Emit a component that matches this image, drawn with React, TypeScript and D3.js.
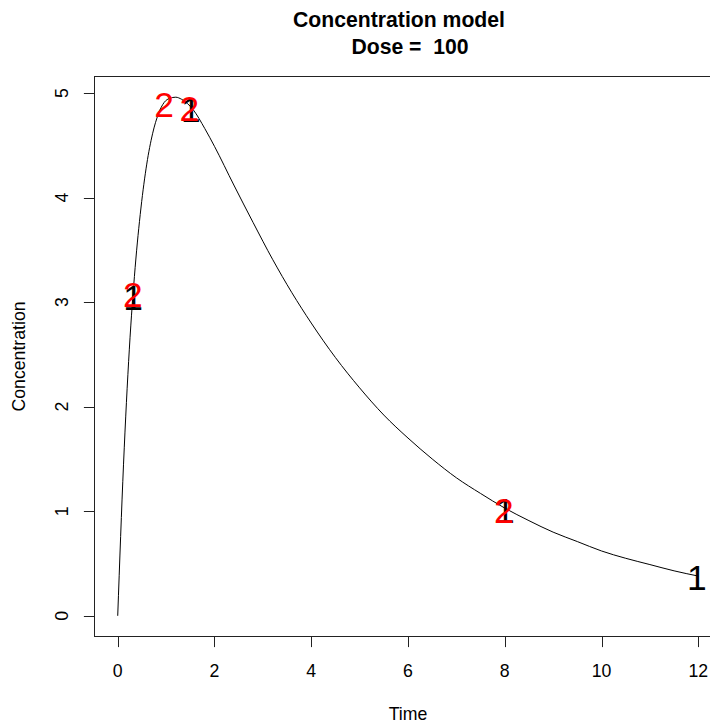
import React, { useEffect, useRef } from "react";
import * as d3 from "d3";

// model curve
const times = [0, 0.12, 0.24, 0.36, 0.48, 0.6, 0.72, 0.84, 0.96, 1.08, 1.2, 1.32, 1.44, 1.56, 1.8, 2.0, 2.4, 2.8, 3.2, 3.6, 4, 4.5, 5, 5.5, 6, 6.5, 7, 7.5, 8, 8.5, 9, 9.5, 10, 10.5, 11, 11.5, 12];
const conc = [0, 1.45, 2.55, 3.33, 3.9, 4.32, 4.61, 4.8, 4.91, 4.95, 4.96, 4.94, 4.9, 4.84, 4.66, 4.49, 4.12, 3.76, 3.41, 3.09, 2.8, 2.47, 2.18, 1.92, 1.7, 1.5, 1.32, 1.17, 1.03, 0.91, 0.8, 0.71, 0.62, 0.55, 0.49, 0.43, 0.38];

// observed points, label "1"
const obs1Time = [0.32, 1.51, 8.0, 11.97];
const obs1Conc = [3.05, 4.84, 1.01, 0.37];

// observed points, label "2"
const obs2Time = [0.31, 0.96, 1.48, 7.98];
const obs2Conc = [3.07, 4.89, 4.85, 1.01];

const xTicks = [0, 2, 4, 6, 8, 10, 12];
const yTicks = [0, 1, 2, 3, 4, 5];

const FONT = "'Liberation Sans', Arial, sans-serif";

const ConcChart: React.FC = () => {
  const ref = useRef<SVGSVGElement | null>(null);

  useEffect(() => {
    if (!ref.current) return;
    const svg = d3.select(ref.current);
    svg.selectAll("*").remove();

    const left = 94.5;
    const right = 721.5;
    const top = 76.5;
    const bottom = 636.5;

    const x = d3.scaleLinear().domain([-0.48, 12.48]).range([left, right]);
    const y = d3.scaleLinear().domain([-0.198, 5.158]).range([bottom, top]);

    const fs = 17.7;
    const tick = 10.6;

    // box
    svg
      .append("rect")
      .attr("x", left)
      .attr("y", top)
      .attr("width", right - left)
      .attr("height", bottom - top)
      .attr("fill", "none")
      .attr("stroke", "#222")
      .attr("stroke-width", 1);

    // x axis
    const gx = svg.append("g");
    gx.append("line")
      .attr("x1", x(0))
      .attr("x2", x(12))
      .attr("y1", bottom)
      .attr("y2", bottom)
      .attr("stroke", "#222");
    gx.selectAll("line.t")
      .data(xTicks)
      .enter()
      .append("line")
      .attr("class", "t")
      .attr("x1", (d) => Math.round(x(d)) + 0.5)
      .attr("x2", (d) => Math.round(x(d)) + 0.5)
      .attr("y1", bottom)
      .attr("y2", bottom + tick)
      .attr("stroke", "#222");
    gx.selectAll("text")
      .data(xTicks)
      .enter()
      .append("text")
      .attr("x", (d) => x(d))
      .attr("y", 676.5)
      .attr("text-anchor", "middle")
      .attr("font-family", FONT)
      .attr("font-size", fs)
      .attr("fill", "#000")
      .text((d) => String(d));

    // y axis
    const gy = svg.append("g");
    gy.append("line")
      .attr("x1", left)
      .attr("x2", left)
      .attr("y1", y(0))
      .attr("y2", y(5))
      .attr("stroke", "#222");
    gy.selectAll("line.t")
      .data(yTicks)
      .enter()
      .append("line")
      .attr("class", "t")
      .attr("x1", left)
      .attr("x2", left - tick)
      .attr("y1", (d) => Math.round(y(d)) + 0.5)
      .attr("y2", (d) => Math.round(y(d)) + 0.5)
      .attr("stroke", "#222");
    gy.selectAll("text")
      .data(yTicks)
      .enter()
      .append("text")
      .attr("transform", (d) => `translate(68, ${y(d)}) rotate(-90)`)
      .attr("text-anchor", "middle")
      .attr("font-family", FONT)
      .attr("font-size", fs)
      .attr("fill", "#000")
      .text((d) => String(d));

    // axis titles
    svg
      .append("text")
      .attr("x", (left + right) / 2)
      .attr("y", 719.5)
      .attr("text-anchor", "middle")
      .attr("font-family", FONT)
      .attr("font-size", fs)
      .text("Time");
    svg
      .append("text")
      .attr("transform", `translate(25, ${(top + bottom) / 2}) rotate(-90)`)
      .attr("text-anchor", "middle")
      .attr("font-family", FONT)
      .attr("font-size", fs)
      .text("Concentration");

    // main title
    svg
      .append("text")
      .attr("x", 399)
      .attr("y", 26.5)
      .attr("text-anchor", "middle")
      .attr("font-family", FONT)
      .attr("font-weight", "bold")
      .attr("font-size", 21.2)
      .text("Concentration model");
    svg
      .append("text")
      .attr("x", 410)
      .attr("y", 54.3)
      .attr("text-anchor", "middle")
      .attr("font-family", FONT)
      .attr("font-weight", "bold")
      .attr("font-size", 21.2)
      .attr("xml:space", "preserve")
      .style("white-space", "pre")
      .text("Dose =  100");

    // curve
    const line = d3
      .line<number>()
      .x((d, i) => x(times[i]))
      .y((d) => y(d))
      .curve(d3.curveMonotoneX);
    svg
      .append("path")
      .datum(conc)
      .attr("d", line)
      .attr("fill", "none")
      .attr("stroke", "#000")
      .attr("stroke-width", 1);

    const big = 35.4;
    const off = big * 0.358;

    svg
      .append("g")
      .selectAll("text")
      .data(obs1Time)
      .enter()
      .append("text")
      .attr("x", (d) => x(d))
      .attr("y", (d, i) => y(obs1Conc[i]) + off)
      .attr("text-anchor", "middle")
      .attr("font-family", FONT)
      .attr("font-size", big)
      .attr("fill", "#000")
      .text("1");

    svg
      .append("g")
      .selectAll("text")
      .data(obs2Time)
      .enter()
      .append("text")
      .attr("x", (d) => x(d))
      .attr("y", (d, i) => y(obs2Conc[i]) + off)
      .attr("text-anchor", "middle")
      .attr("font-family", FONT)
      .attr("font-size", big)
      .attr("fill", "#ff0000")
      .text("2");
  }, []);

  return (
    <svg
      ref={ref}
      width={710}
      height={722}
      style={{ position: "absolute", left: 0, top: 0, background: "#fff" }}
    />
  );
};

export default function App() {
  return <ConcChart />;
}
